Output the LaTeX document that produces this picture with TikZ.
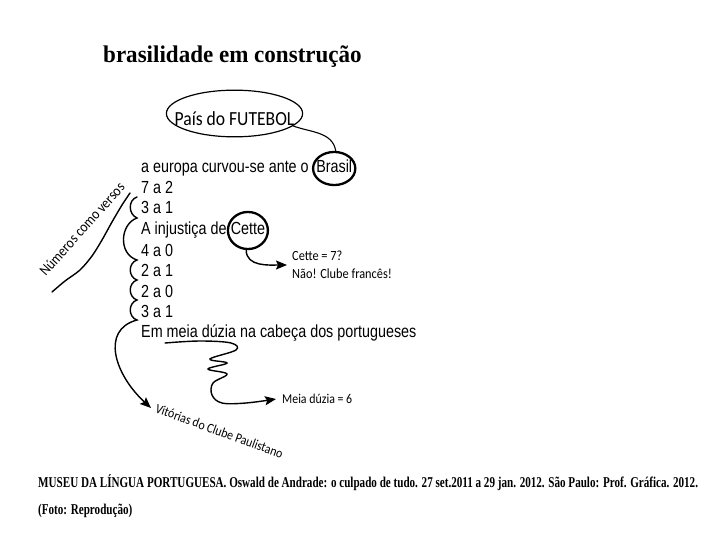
\documentclass[tikz,border=0pt]{standalone}
\usepackage{fontspec}
\usetikzlibrary{positioning,shapes.geometric,arrows.meta}
\setmainfont{Liberation Serif}
\newfontfamily\titlefont[FakeStretch=0.96]{Liberation Serif}
\newfontfamily\versofont[FakeStretch=0.82]{Liberation Sans}
\newfontfamily\comicfont[FakeStretch=0.88]{Carlito}
\newfontfamily\reffont[FakeStretch=0.74]{Liberation Serif}

\begin{document}
\begin{tikzpicture}[x=1pt,y=-1pt,
  verso/.style={anchor=base west,inner sep=0pt,font=\versofont\fontsize{17.5}{20}\selectfont,text height=13pt,text depth=4pt},
  circled/.style={ellipse,draw,line width=2.3pt,inner xsep=-3pt,font=\versofont\fontsize{17.5}{20}\selectfont,text height=13pt,text depth=4pt},
  nota/.style={inner sep=0pt,align=left,font=\comicfont\fontsize{14}{18}\selectfont},
  traco/.style={line width=1.4pt,line cap=round},
  seta/.style={traco,-{Stealth[length=11pt,width=9pt,inset=2pt]}}]

\useasboundingbox (0,0) rectangle (720,540);

\node[anchor=base west,inner sep=0pt,font=\titlefont\bfseries\fontsize{24}{28}\selectfont] (titulo) at (103,63) {brasilidade em construção};

\node[ellipse,draw,line width=1.2pt,text height=25pt,text depth=0pt,inner xsep=-11.7pt,inner ysep=4pt,font=\comicfont\fontsize{20}{22}\selectfont] (pais) at (234.5,113.5) {País do FUTEBOL};

% versos
\node[verso] (l1) at (141,173) {a europa curvou-se ante o};
\node[circled,inner ysep=3.2pt,right=3pt of l1] (brasil) {Brasil};
\node[verso] (l2) at (141,193.5) {7 a 2};
\node[verso] (l3) at (141,214) {3 a 1};
\node[verso] (l4) at (141,235) {A injustiça de};
\node[circled,inner ysep=4.6pt,right=0pt of l4] (cette) {Cette};
\node[verso] (l5) at (141,256) {4 a 0};
\node[verso] (l6) at (141,276.5) {2 a 1};
\node[verso] (l7) at (141,297) {2 a 0};
\node[verso] (l8) at (141,317) {3 a 1};
\node[verso] (l9) at (141,337.5) {Em meia dúzia na cabeça dos portugueses};

% notas
\node[nota,anchor=west] (cettenota) at (292,265) {Cette = 7?\\Não! Clube francês!};
\node[nota,anchor=west,font=\comicfont\fontsize{13.5}{15}\selectfont] (meia) at (282,399) {Meia dúzia = 6};
\node[nota,anchor=west,font=\comicfont\fontsize{13.5}{15}\selectfont,rotate=-20] (vit) at (156,408) {Vitórias do Clube Paulistano};
\node[nota,font=\comicfont\fontsize{15}{17}\selectfont,rotate=48] (numeros) at (82,229) {Números como versos};

% ligacoes
\draw[traco,line width=1.1pt] (pais.-12) to[out=-20,in=100] (brasil.85);
\draw[seta] (cette.-95) to[out=-90,in=180] ([xshift=-5pt]cettenota.west);
\draw[traco] plot[smooth] coordinates {(52,292) (65,281) (80,270) (92,256) (102,240) (112,222) (122,205) (130,193)}; % sob numeros
\draw[seta] (137,197) .. controls (128,200) and (128,214) .. (137,218) % chave
  .. controls (120,224) and (118,254) .. (137,260)
  .. controls (128,263) and (128,277) .. (137,280)
  .. controls (128,283) and (128,297) .. (137,300)
  .. controls (128,303) and (128,317) .. (137,320)
  .. controls (100,330) and (115,375) .. ([xshift=-5pt]vit.west);
\draw[seta] plot[smooth,tension=0.6] coordinates {(165,343) (200,341) (231,343) (236,350) (210,359) (227,363) (208,369) (227,374) (213,383) (212,395) (222,403) (246,403) ([xshift=-6pt]meia.west)}; % meia duzia

% referencia
\node[anchor=base west,inner sep=0pt,font=\reffont\bfseries\fontsize{15}{18}\selectfont] (ref) at (38,487) {MUSEU DA LÍNGUA PORTUGUESA. Oswald de Andrade: o culpado de tudo. 27 set.2011 a 29 jan. 2012. São Paulo: Prof. Gráfica. 2012.};
\node[anchor=base west,inner sep=0pt,font=\reffont\bfseries\fontsize{15}{18}\selectfont] (foto) at (38,514) {(Foto: Reprodução)};
\end{tikzpicture}
\end{document}
